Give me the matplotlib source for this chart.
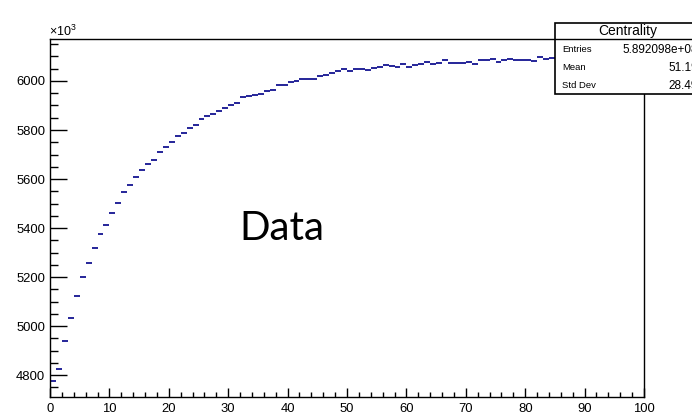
"""
Recreates a ROOT-style histogram of centrality (counts in thousands),
with the stats box in the top right and a "Data" label.
"""

import matplotlib

matplotlib.use("Agg")
import matplotlib.pyplot as plt  # noqa: E402
import numpy as np  # noqa: E402
from matplotlib.patches import Rectangle  # noqa: E402
from matplotlib.ticker import MultipleLocator  # noqa: E402

# bin contents (x10^3), bins of width 1 from 0 to 100
counts = [
    4777, 4824, 4939, 5034, 5125, 5199, 5256, 5320, 5375, 5413,
    5460, 5501, 5546, 5574, 5607, 5637, 5660, 5676, 5710, 5729,
    5751, 5775, 5789, 5809, 5820, 5843, 5858, 5864, 5876, 5889,
    5901, 5911, 5933, 5939, 5941, 5948, 5958, 5964, 5984, 5985,
    5996, 6000, 6007, 6007, 6008, 6020, 6026, 6031, 6042, 6048,
    6041, 6050, 6047, 6044, 6054, 6058, 6064, 6063, 6058, 6069,
    6058, 6064, 6071, 6076, 6069, 6072, 6086, 6073, 6072, 6074,
    6076, 6071, 6085, 6086, 6089, 6076, 6086, 6089, 6086, 6085,
    6086, 6082, 6097, 6090, 6092, 6088, 6094, 6090, 6093, 6096,
    6091, 6095, 6093, 6090, 6096, 6094, 6092, 6097, 6095, 6093,
]
bin_edges = list(range(0, 101))

stats_title = "Centrality"
stats_labels = ["Entries", "Mean", "Std Dev"]
stats_values = ["5.892098e+08", "51.19", "28.49"]

W, H = 692, 415
ROOT_FONT = ["Liberation Sans", "DejaVu Sans"]
plt.rcParams["font.family"] = ROOT_FONT
plt.rcParams["mathtext.fontset"] = "custom"
plt.rcParams["mathtext.rm"] = "Liberation Sans"


def fx(x):
    return x / W


def fy(y):
    return 1 - y / H


fig = plt.figure(figsize=(W / 100, H / 100), dpi=100)
ax = fig.add_axes([fx(50), fy(397), fx(644) - fx(50), fy(39.3) - fy(397)])

edges = np.array(bin_edges, dtype=float)
vals = np.array(counts, dtype=float)
centers = 0.5 * (edges[:-1] + edges[1:])
ax.errorbar(centers, vals, xerr=0.5, fmt="none", ecolor="#000088",
            elinewidth=1.2, capsize=0)

ax.set_xlim(0, 100)
ax.set_ylim(4711, 6170)

ax.xaxis.set_major_locator(MultipleLocator(10))
ax.xaxis.set_minor_locator(MultipleLocator(2))
ax.yaxis.set_major_locator(MultipleLocator(200))
ax.yaxis.set_minor_locator(MultipleLocator(50))
ax.tick_params(axis="both", which="both", direction="in", top=False,
               right=False, width=1, color="black")
ax.tick_params(axis="x", which="major", length=6.5, pad=4, labelsize=9.4)
ax.tick_params(axis="x", which="minor", length=3.6)
ax.tick_params(axis="y", which="major", length=12.2, pad=3.5, labelsize=9.4)
ax.tick_params(axis="y", which="minor", length=5.8)
for sp in ax.spines.values():
    sp.set_linewidth(1)
    sp.set_color("black")

fig.text(fx(49), fy(36), r"$\mathregular{\times10^{3}}$", fontsize=9,
         ha="left", va="baseline")

# stats box (runs past the right edge, as in the reference)
box = Rectangle((fx(554.7), fy(94)), fx(730) - fx(554.7), fy(23.3) - fy(94),
                transform=fig.transFigure, facecolor="white",
                edgecolor="black", linewidth=1.2, zorder=5)
fig.patches.append(box)
fig.add_artist(plt.Line2D([fx(554.7), fx(730)], [fy(39.3), fy(39.3)],
                          transform=fig.transFigure, color="black",
                          linewidth=1, zorder=6))
fig.text(fx(628), fy(31.5), stats_title, fontsize=10, ha="center",
         va="center", zorder=7)
row_y = [50, 67.7, 86]
for lab, val, y in zip(stats_labels, stats_values, row_y):
    fig.text(fx(562), fy(y), lab, fontsize=6.8, ha="left", va="center",
             zorder=7)
    fig.text(fx(698), fy(y), val, fontsize=8.5, ha="right", va="center",
             zorder=7)

fig.text(fx(282), fy(228), "Data", fontsize=29, ha="center", va="center",
         family=["Lato", "DejaVu Sans"])

fig.savefig("out.png", dpi=100)
plt.close(fig)
